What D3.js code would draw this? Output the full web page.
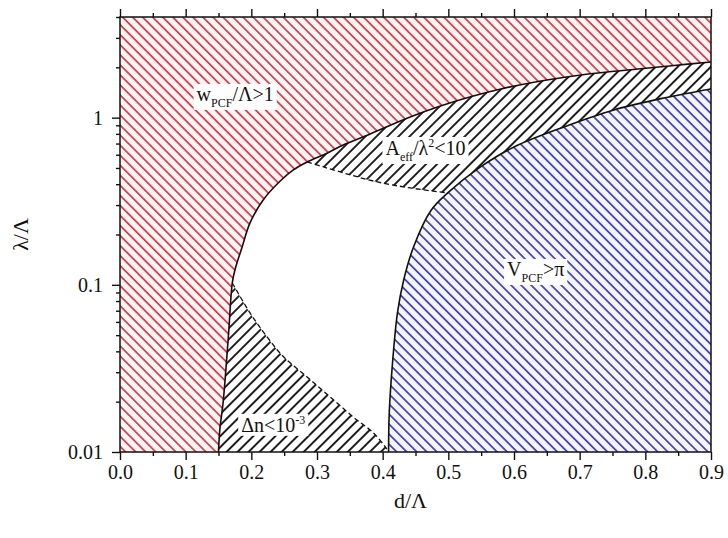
<!DOCTYPE html>
<html>
<head>
<meta charset="utf-8">
<script src="https://cdn.jsdelivr.net/npm/d3@7"></script>
<style>
  body { margin: 0; background: #fff; }
  svg { display: block; font-family: "Liberation Serif", "Times New Roman", serif; }
</style>
</head>
<body>
<svg id="chart" width="728" height="538"></svg>
<script>
// Boundary of the w_PCF/Λ > 1 region (solid line), d/Λ vs λ/Λ
const wpcfD = [0.150, 0.152, 0.157, 0.165, 0.171, 0.175, 0.186, 0.198, 0.218, 0.244, 0.264, 0.285,
               0.316, 0.340, 0.381, 0.438, 0.488, 0.538, 0.580, 0.641, 0.702, 0.758, 0.844, 0.900];
const wpcfL = [0.010, 0.0136, 0.0197, 0.0488, 0.1026, 0.1227, 0.1685, 0.2346, 0.322, 0.418, 0.487, 0.543,
               0.615, 0.687, 0.799, 0.996, 1.175, 1.348, 1.485, 1.658, 1.800, 1.902, 2.052, 2.153];

// Boundary of the V_PCF > π region (solid line)
const vpcfD = [0.409, 0.410, 0.415, 0.4225, 0.432, 0.447, 0.473, 0.499, 0.549, 0.600, 0.676, 0.752, 0.828, 0.900];
const vpcfL = [0.010, 0.0171, 0.0341, 0.0679, 0.1069, 0.1685, 0.2767, 0.3544, 0.507, 0.668, 0.880, 1.112, 1.311, 1.485];

// Lower edge of the A_eff/λ² < 10 band (dashed line)
const aeffD = [0.285, 0.310, 0.351, 0.392, 0.442, 0.499];
const aeffL = [0.543, 0.507, 0.4543, 0.4125, 0.3798, 0.3544];

// Upper edge of the Δn < 10^-3 region (dashed line)
const dnD = [0.171, 0.198, 0.224, 0.249, 0.285, 0.320, 0.355, 0.386, 0.404, 0.409];
const dnL = [0.1026, 0.0679, 0.0488, 0.0371, 0.0281, 0.02136, 0.01622, 0.0130, 0.01072, 0.010];

// Axis ticks
const xMajor = [0, 0.1, 0.2, 0.3, 0.4, 0.5, 0.6, 0.7, 0.8, 0.9];
const xMinor = [0.05, 0.15, 0.25, 0.35, 0.45, 0.55, 0.65, 0.75, 0.85];
const yMajor = [0.01, 0.1, 1];
const yMajorLabels = ["0.01", "0.1", "1"];
const yMinor = [0.02, 0.03, 0.04, 0.05, 0.06, 0.07, 0.08, 0.09,
                0.2, 0.3, 0.4, 0.5, 0.6, 0.7, 0.8, 0.9, 2, 3, 4];

const W = 728, H = 538;
const m = { left: 120, right: 17, top: 17, bottom: 86 };
const svg = d3.select("#chart");

const x = d3.scaleLinear().domain([0, 0.9]).range([m.left, W - m.right]);
const y = d3.scaleLog().domain([0.01, 4]).range([H - m.bottom, m.top]);
const [x0, x1] = x.domain();
const [y0, y1] = y.domain();

const pts = (D, L) => D.map((d, i) => [x(d), y(L[i])]);
const curve = d3.line().curve(d3.curveCatmullRom.alpha(0.5));
const open = p => curve(p);
const cont = p => curve(p).replace(/^M/, "L");

const wpcf = pts(wpcfD, wpcfL);
const vpcf = pts(vpcfD, vpcfL);
const aeff = pts(aeffD, aeffL);
const dn = pts(dnD, dnL);

// Hatch patterns
const defs = svg.append("defs");
function hatch(id, color, spacing, angle, width) {
  const p = defs.append("pattern")
    .attr("id", id)
    .attr("patternUnits", "userSpaceOnUse")
    .attr("width", spacing).attr("height", 20)
    .attr("patternTransform", `rotate(${angle})`);
  p.append("line")
    .attr("x1", spacing / 2).attr("y1", -2)
    .attr("x2", spacing / 2).attr("y2", 22)
    .attr("stroke", color).attr("stroke-width", width);
}
hatch("hRed", "#c8343e", 7.1, -45, 1.6);
hatch("hBlue", "#3434a6", 7.1, -45, 1.6);
hatch("hBlack", "#1e1e1e", 7.8, 45, 2.0);

defs.append("clipPath").attr("id", "plotClip")
  .append("rect")
  .attr("x", x(x0)).attr("y", y(y1))
  .attr("width", x(x1) - x(x0)).attr("height", y(y0) - y(y1));

const g = svg.append("g").attr("clip-path", "url(#plotClip)");

// Regions
const iA = wpcfD.indexOf(aeffD[0]);
const iDn = wpcfD.indexOf(dnD[0]);
const iV = vpcfD.indexOf(aeffD[aeffD.length - 1]);

const redPath = `M${x(x0)},${y(y0)}` + cont(wpcf) + `L${x(x1)},${y(y1)}L${x(x0)},${y(y1)}Z`;
const aeffPath = open(wpcf.slice(iA)) + cont(vpcf.slice(iV).reverse()) + cont(aeff.slice().reverse()) + "Z";
const bluePath = open(vpcf) + `L${x(x1)},${y(y0)}Z`;
const dnPath = open(wpcf.slice(0, iDn + 1)) + cont(dn) + "Z";

const regions = [
  { d: redPath, tint: "#fdf3f3", hatch: "hRed" },
  { d: bluePath, tint: "#f4f4fc", hatch: "hBlue" },
  { d: aeffPath, tint: "none", hatch: "hBlack" },
  { d: dnPath, tint: "none", hatch: "hBlack" }
];
regions.forEach(r => {
  g.append("path").attr("d", r.d).attr("fill", r.tint);
  g.append("path").attr("d", r.d).attr("fill", `url(#${r.hatch})`);
});

// Boundary lines
g.append("path").attr("d", open(wpcf)).attr("fill", "none")
  .attr("stroke", "#111").attr("stroke-width", 1.6);
g.append("path").attr("d", open(vpcf)).attr("fill", "none")
  .attr("stroke", "#111").attr("stroke-width", 1.6);
g.append("path").attr("d", open(aeff)).attr("fill", "none")
  .attr("stroke", "#111").attr("stroke-width", 1.3).attr("stroke-dasharray", "5,3");
g.append("path").attr("d", open(dn)).attr("fill", "none")
  .attr("stroke", "#111").attr("stroke-width", 1.3).attr("stroke-dasharray", "5,3");

// Region labels (text with sub/superscripts on white boxes)
const labels = [
  { d: 0.1754, l: 1.26, parts: [["w", 0], ["PCF", -1], ["/Λ>1", 0]] },
  { d: 0.4652, l: 0.598, parts: [["A", 0], ["eff", -1], ["/λ", 0], ["2", 1], ["<10", 0]] },
  { d: 0.633, l: 0.113, parts: [["V", 0], ["PCF", -1], [">π", 0]] },
  { d: 0.2334, l: 0.0132, parts: [["Δn<10", 0], ["-3", 1]] }
];
labels.forEach(lb => {
  const lg = svg.append("g");
  const rect = lg.append("rect").attr("fill", "#fff");
  const t = lg.append("text")
    .attr("x", x(lb.d)).attr("y", y(lb.l))
    .attr("text-anchor", "middle")
    .attr("font-size", 20).attr("fill", "#111");
  let shift = 0;
  lb.parts.forEach(([s, k]) => {
    const target = k === -1 ? 6 : k === 1 ? -8 : 0;
    t.append("tspan")
      .attr("dy", target - shift)
      .attr("font-size", k === 0 ? 20 : 12)
      .text(s);
    shift = target;
  });
  const bb = t.node().getBBox();
  rect.attr("x", bb.x - 3).attr("y", bb.y + 1)
    .attr("width", bb.width + 6).attr("height", bb.height - 1);
});

// Axes
const axG = svg.append("g").attr("font-family", "Liberation Serif, serif");

function styleAxis(sel) {
  sel.select(".domain").remove();
  sel.selectAll("line").attr("stroke", "#111").attr("stroke-width", 1.4);
  sel.selectAll("text").attr("font-family", "Liberation Serif, serif").attr("font-size", 20).attr("fill", "#111");
}

// bottom
axG.append("g").attr("transform", `translate(0,${y(y0)})`)
  .call(d3.axisBottom(x).tickValues(xMajor).tickSize(8).tickPadding(5).tickFormat(d3.format(".1f")))
  .call(styleAxis);
axG.append("g").attr("transform", `translate(0,${y(y0)})`)
  .call(d3.axisBottom(x).tickValues(xMinor).tickSize(4).tickFormat(""))
  .call(styleAxis);
// top
axG.append("g").attr("transform", `translate(0,${y(y1)})`)
  .call(d3.axisTop(x).tickValues(xMajor).tickSize(8).tickFormat(""))
  .call(styleAxis);
axG.append("g").attr("transform", `translate(0,${y(y1)})`)
  .call(d3.axisTop(x).tickValues(xMinor).tickSize(4).tickFormat(""))
  .call(styleAxis);
// left
axG.append("g").attr("transform", `translate(${x(x0)},0)`)
  .call(d3.axisLeft(y).tickValues(yMajor).tickSize(8).tickPadding(9)
    .tickFormat((d, i) => yMajorLabels[i]))
  .call(styleAxis);
axG.append("g").attr("transform", `translate(${x(x0)},0)`)
  .call(d3.axisLeft(y).tickValues(yMinor).tickSize(4).tickFormat(""))
  .call(styleAxis);

// Frame
svg.append("rect")
  .attr("x", x(x0)).attr("y", y(y1))
  .attr("width", x(x1) - x(x0)).attr("height", y(y0) - y(y1))
  .attr("fill", "none").attr("stroke", "#111").attr("stroke-width", 1.5);

// Axis titles
svg.append("text")
  .attr("x", (x(x0) + x(x1)) / 2 - 5).attr("y", 508)
  .attr("text-anchor", "middle").attr("font-size", 22).attr("fill", "#111")
  .text("d/Λ");
svg.append("text")
  .attr("transform", `translate(28,${(y(y0) + y(y1)) / 2})rotate(-90)`)
  .attr("text-anchor", "middle").attr("font-size", 22).attr("fill", "#111")
  .text("λ/Λ");
</script>
</body>
</html>
